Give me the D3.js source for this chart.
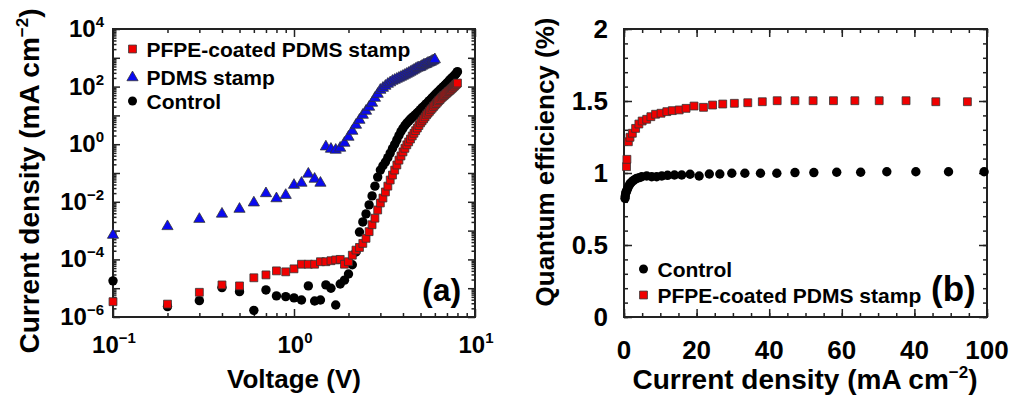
<!DOCTYPE html>
<html>
<head>
<meta charset="utf-8">
<script src="https://cdn.jsdelivr.net/npm/d3@7"></script>
<style>
  body { margin: 0; background: #fff; }
  text { font-family: "Liberation Sans", Arial, sans-serif; font-weight: bold; fill: #000; }
</style>
</head>
<body>
<div id="chart"></div>
<script>
// ---- panel (a): J-V curves ----
var voltage = [0.1, 0.2, 0.3, 0.4, 0.5, 0.6, 0.7, 0.8, 0.9, 1.0,
  1.1, 1.2, 1.3, 1.4, 1.5, 1.6, 1.7, 1.8, 1.9, 2.0,
  2.1, 2.2, 2.3, 2.4, 2.5, 2.6, 2.7, 2.8, 2.9, 3.0,
  3.1, 3.2, 3.3, 3.4, 3.5, 3.6, 3.7, 3.8, 3.9, 4.0,
  4.1, 4.2, 4.3, 4.4, 4.5, 4.6, 4.7, 4.8, 4.9, 5.0,
  5.1, 5.2, 5.3, 5.4, 5.5, 5.6, 5.7, 5.8, 5.9, 6.0,
  6.1, 6.2, 6.3, 6.4, 6.5, 6.6, 6.7, 6.8, 6.9, 7.0,
  7.1, 7.2, 7.3, 7.4, 7.5, 7.6, 7.7, 7.8, 7.9, 8.0];

var jPfpe = [3.4e-6, 2.8e-6, 7.2e-6, 1.3e-5, 1.2e-5, 2.3e-5, 2.9e-5, 4.0e-5, 3.7e-5, 4.7e-5,
  6.8e-5, 6.8e-5, 6.8e-5, 8.3e-5, 8.3e-5, 9.0e-5, 9.6e-5, 1.0e-4, 6.8e-5, 8.3e-5,
  1.4e-4, 2.1e-4, 2.6e-4, 3.6e-4, 5.4e-4, 9.2e-4, 1.6e-3, 2.7e-3, 5.2e-3, 9.1e-3,
  0.0135, 0.022, 0.035, 0.057, 0.085, 0.126, 0.19, 0.28, 0.39, 0.54,
  0.72, 0.95, 1.2, 1.51, 1.93, 2.4, 2.95, 3.63, 4.47, 5.5,
  6.46, 7.59, 8.91, 10.5, 12.0, 13.8, 15.8, 17.8, 20.4, 22.9,
  25.7, 28.8, 32.4, 35.5, 39.8, 43.7, 47.9, 51.3, 56.2, 60.3,
  66.1, 70.8, 75.9, 83.2, 89.1, 97.7, 105, 115, 123, 133];

// PDMS stamp only measured up to 6 V
var jPdms = [7e-4, 1.4e-3, 2.5e-3, 3.8e-3, 5.6e-3, 9.3e-3, 0.0195, 0.013, 0.017, 0.038,
  0.045, 0.093, 0.062, 0.045, 0.82, 0.68, 0.63, 0.74, 1.1, 1.78,
  2.87, 4.64, 6.9, 10.3, 14.2, 19.6, 27, 40, 55, 76,
  89, 105, 123, 138, 156, 169, 184, 199, 215, 233,
  253, 274, 296, 321, 348, 377, 409, 442, 460, 479,
  519, 562, 585, 609, 660, 687, 715, 775, 806, 873];

var jControl = [1.8e-5, 2.3e-6, 3.7e-6, 1.05e-5, 7.6e-6, 1.7e-6, 8.7e-6, 5.4e-6, 5.1e-6, 4.6e-6,
  3.9e-6, 1.2e-5, 3.6e-6, 3.9e-6, 1.3e-5, 1.0e-5, 2.6e-6, 1.4e-5, 1.9e-5, 3.1e-5,
  6.5e-5, 1.8e-4, 8.9e-4, 2.0e-3, 3.8e-3, 7.8e-3, 0.016, 0.035, 0.072, 0.126,
  0.178, 0.24, 0.34, 0.49, 0.71, 1.0, 1.41, 2.0, 2.75, 3.55,
  4.47, 5.37, 6.31, 7.41, 8.51, 9.55, 10.7, 12.3, 13.8, 15.8,
  18.2, 20.4, 22.9, 25.7, 28.8, 32.4, 36.3, 40.7, 45.7, 51.3,
  56.2, 63.1, 69.2, 75.9, 83.2, 91.2, 100, 110, 120, 132,
  145, 158, 174, 191, 204, 224, 245, 269, 295, 331];

// ---- panel (b): quantum efficiency vs current density ----
var qeControlJ = [0.28, 0.35, 0.47, 0.6, 0.8, 1.02, 1.3, 1.65, 2.0, 2.56, 3.0, 3.5, 4.2, 4.88, 6.25, 7.63,
  9.0, 10.4, 12.0, 13.9, 15.9, 18.2, 20.7, 23.5, 26.4, 29.7, 33.3, 37.6, 42.1, 47.1,
  52.3, 58.6, 65.2, 72.4, 80.4, 89.4, 99.2];
var qeControl = [0.824, 0.84, 0.859, 0.87, 0.88, 0.894, 0.91, 0.924, 0.935, 0.947, 0.955, 0.963, 0.968, 0.974, 0.979, 0.974,
  0.974, 0.979, 0.984, 0.986, 0.986, 0.991, 0.979, 0.993, 0.993, 0.998, 0.998, 0.998, 0.998, 1.003,
  1.003, 1.005, 1.005, 1.009, 1.009, 1.009, 1.009];

var qePfpeJ = [0.7, 0.8, 1.2, 1.65, 2.3, 3.2, 4.1, 5.0, 6.25, 7.4, 8.7, 10.2, 11.8, 13.3, 15.2, 17.1,
  19.3, 21.9, 24.4, 27.2, 30.4, 34.1, 38.1, 42.2, 47.1, 52.1, 57.7, 63.6, 70.3, 77.7, 85.9, 94.6];
var qePfpe = [1.044, 1.095, 1.217, 1.248, 1.276, 1.310, 1.340, 1.361, 1.373, 1.391, 1.408, 1.415, 1.426, 1.433, 1.438, 1.449,
  1.465, 1.456, 1.472, 1.479, 1.484, 1.488, 1.495, 1.502, 1.502, 1.502, 1.502, 1.502, 1.502, 1.502, 1.495, 1.495];

// tick labels
var yExpA = [4, 2, 0, -2, -4, -6];
var xExpA = [-1, 0, 1];
var xTickValuesB = [0, 20, 40, 60, 80, 100];
var xTickLabelsB = ["0", "20", "40", "60", "40", "100"];   // as printed in the figure
var yTickValuesB = [0, 0.5, 1, 1.5, 2];
var yTickLabelsB = ["0", "0.5", "1", "1.5", "2"];

var width = 1012, height = 397;
var svg = d3.select("#chart").append("svg")
  .attr("width", width)
  .attr("height", height);

var pa = { left: 113, right: 475, top: 29, bottom: 317 };
var pb = { left: 624, right: 987, top: 29, bottom: 317 };

var xA = d3.scaleLog().domain([0.1, 10]).range([pa.left, pa.right]);
var yA = d3.scaleLog().domain([1e-6, 1e4]).range([pa.bottom, pa.top]);
var xB = d3.scaleLinear().domain([0, 100]).range([pb.left, pb.right]);
var yB = d3.scaleLinear().domain([0, 2]).range([pb.bottom, pb.top]);

function minus(n) { return String(n).replace("-", "\u2212"); }

// inward ticks, no domain line (the frame is a rect)
function ticks(axis, vals, len, tx, ty) {
  svg.append("g")
    .attr("transform", "translate(" + tx + "," + ty + ")")
    .call(axis.tickValues(vals).tickSize(-len).tickFormat(""))
    .call(function (g) { g.select(".domain").remove(); })
    .selectAll("line")
    .attr("stroke", "#222")
    .attr("stroke-width", 1.5);
}

// log minor ticks
function logMinor(lo, hi) {
  var out = [];
  for (var e = lo; e < hi; e++) {
    for (var m = 2; m <= 9; m++) out.push(m * Math.pow(10, e));
  }
  return out;
}
var decX = [0.1, 1, 10];
var decY = d3.range(-6, 5).map(function (e) { return Math.pow(10, e); });

// frames
[pa, pb].forEach(function (p) {
  svg.append("rect")
    .attr("x", p.left).attr("y", p.top)
    .attr("width", p.right - p.left).attr("height", p.bottom - p.top)
    .attr("fill", "none")
    .attr("stroke", "#222")
    .attr("stroke-width", 2);
});

// panel (a) ticks
ticks(d3.axisBottom(xA), decX, 8, 0, pa.bottom);
ticks(d3.axisBottom(xA), logMinor(-1, 1), 4, 0, pa.bottom);
ticks(d3.axisTop(xA), decX, 8, 0, pa.top);
ticks(d3.axisTop(xA), logMinor(-1, 1), 4, 0, pa.top);
ticks(d3.axisLeft(yA), decY, 7, pa.left, 0);
ticks(d3.axisLeft(yA), logMinor(-6, 4), 3.5, pa.left, 0);
ticks(d3.axisRight(yA), decY, 7, pa.right, 0);
ticks(d3.axisRight(yA), logMinor(-6, 4), 3.5, pa.right, 0);

// panel (b) ticks
var minorXB = d3.range(0, 101, 5), minorYB = d3.range(0, 2.01, 0.1);
ticks(d3.axisBottom(xB), xTickValuesB, 8, 0, pb.bottom);
ticks(d3.axisBottom(xB), minorXB, 4, 0, pb.bottom);
ticks(d3.axisTop(xB), xTickValuesB, 8, 0, pb.top);
ticks(d3.axisTop(xB), minorXB, 4, 0, pb.top);
ticks(d3.axisLeft(yB), yTickValuesB, 8, pb.left, 0);
ticks(d3.axisLeft(yB), minorYB, 4, pb.left, 0);
ticks(d3.axisRight(yB), yTickValuesB, 8, pb.right, 0);
ticks(d3.axisRight(yB), minorYB, 4, pb.right, 0);

// panel (a) tick labels: 10^n
var yl = svg.selectAll(".ylabA").data(yExpA).join("text")
  .attr("class", "ylabA")
  .attr("x", 104)
  .attr("y", function (d) { return yA(Math.pow(10, d)) + 8; })
  .attr("text-anchor", "end")
  .style("font-size", "24px");
yl.append("tspan").text("10");
yl.append("tspan").attr("dy", -10).style("font-size", "15px").text(function (d) { return minus(d); });

var xl = svg.selectAll(".xlabA").data(xExpA).join("text")
  .attr("class", "xlabA")
  .attr("x", function (d) { return xA(Math.pow(10, d)) + 1; })
  .attr("y", 353)
  .attr("text-anchor", "middle")
  .style("font-size", "24px");
xl.append("tspan").text("10");
xl.append("tspan").attr("dy", -10).style("font-size", "15px").text(function (d) { return minus(d); });

// panel (b) tick labels
svg.selectAll(".ylabB").data(yTickValuesB).join("text")
  .attr("class", "ylabB")
  .attr("x", 608)
  .attr("y", function (d) { return yB(d) + 9; })
  .attr("text-anchor", "end")
  .style("font-size", "26px")
  .text(function (d, i) { return yTickLabelsB[i]; });

svg.selectAll(".xlabB").data(xTickValuesB).join("text")
  .attr("class", "xlabB")
  .attr("x", function (d) { return xB(d); })
  .attr("y", 359)
  .attr("text-anchor", "middle")
  .style("font-size", "26px")
  .text(function (d, i) { return xTickLabelsB[i]; });

// axis titles
svg.append("text").attr("x", 294).attr("y", 388).attr("text-anchor", "middle")
  .style("font-size", "26px").text("Voltage (V)");

var tb = svg.append("text").attr("x", 805).attr("y", 389).attr("text-anchor", "middle")
  .style("font-size", "28px");
tb.append("tspan").text("Current density (mA cm");
tb.append("tspan").attr("dy", -11).style("font-size", "17px").text("\u22122");
tb.append("tspan").attr("dy", 11).text(")");

var ta = svg.append("text").attr("transform", "translate(39,181) rotate(-90)")
  .attr("text-anchor", "middle").style("font-size", "28px");
ta.append("tspan").text("Current density (mA cm");
ta.append("tspan").attr("dy", -11).style("font-size", "17px").text("\u22122");
ta.append("tspan").attr("dy", 11).text(")");

svg.append("text").attr("transform", "translate(554,162) rotate(-90)")
  .attr("text-anchor", "middle").style("font-size", "26px").text("Quantum efficiency (%)");

// markers
var sq = d3.symbol().type(d3.symbolSquare).size(62);
var tri = d3.symbol().type(d3.symbolTriangle).size(54);

function circles(xs, ys, xS, yS) {
  svg.append("g").selectAll("circle").data(xs).join("circle")
    .attr("cx", function (d) { return xS(d); })
    .attr("cy", function (d, i) { return yS(ys[i]); })
    .attr("r", 4.7)
    .attr("fill", "#000");
}
function symbols(gen, xs, ys, xS, yS, fill) {
  svg.append("g").selectAll("path").data(xs).join("path")
    .attr("d", gen)
    .attr("transform", function (d, i) { return "translate(" + xS(d) + "," + yS(ys[i]) + ")"; })
    .attr("fill", fill)
    .attr("stroke", "#333")
    .attr("stroke-width", 0.8);
}

circles(voltage, jControl, xA, yA);
symbols(tri, voltage.slice(0, jPdms.length), jPdms, xA, yA, "#0a0af0");
symbols(sq, voltage, jPfpe, xA, yA, "#f00000");

circles(qeControlJ, qeControl, xB, yB);
symbols(sq, qePfpeJ, qePfpe, xB, yB, "#f00000");

// legends
var legA = [
  { label: "PFPE-coated PDMS stamp", kind: "sq", y: 49 },
  { label: "PDMS stamp", kind: "tri", y: 77.5 },
  { label: "Control", kind: "circ", y: 101 }
];
var legB = [
  { label: "Control", kind: "circ", y: 269 },
  { label: "PFPE-coated PDMS stamp", kind: "sq", y: 295 }
];
function legend(items, x0) {
  items.forEach(function (d) {
    if (d.kind === "circ") {
      svg.append("circle").attr("cx", x0).attr("cy", d.y).attr("r", 4.5).attr("fill", "#000");
    } else {
      svg.append("path").attr("d", d.kind === "sq" ? sq : tri)
        .attr("transform", "translate(" + x0 + "," + d.y + ")")
        .attr("fill", d.kind === "sq" ? "#f00000" : "#0a0af0")
        .attr("stroke", "#333").attr("stroke-width", 0.8);
    }
    svg.append("text").attr("x", x0 + 14).attr("y", d.y + 7.5)
      .style("font-size", "21px").text(d.label);
  });
}
legend(legA, 132.5);
legend(legB, 643.5);

// panel letters
svg.append("text").attr("x", 422).attr("y", 301).style("font-size", "32px").text("(a)");
svg.append("text").attr("x", 931).attr("y", 301).style("font-size", "35px").text("(b)");
</script>
</body>
</html>
